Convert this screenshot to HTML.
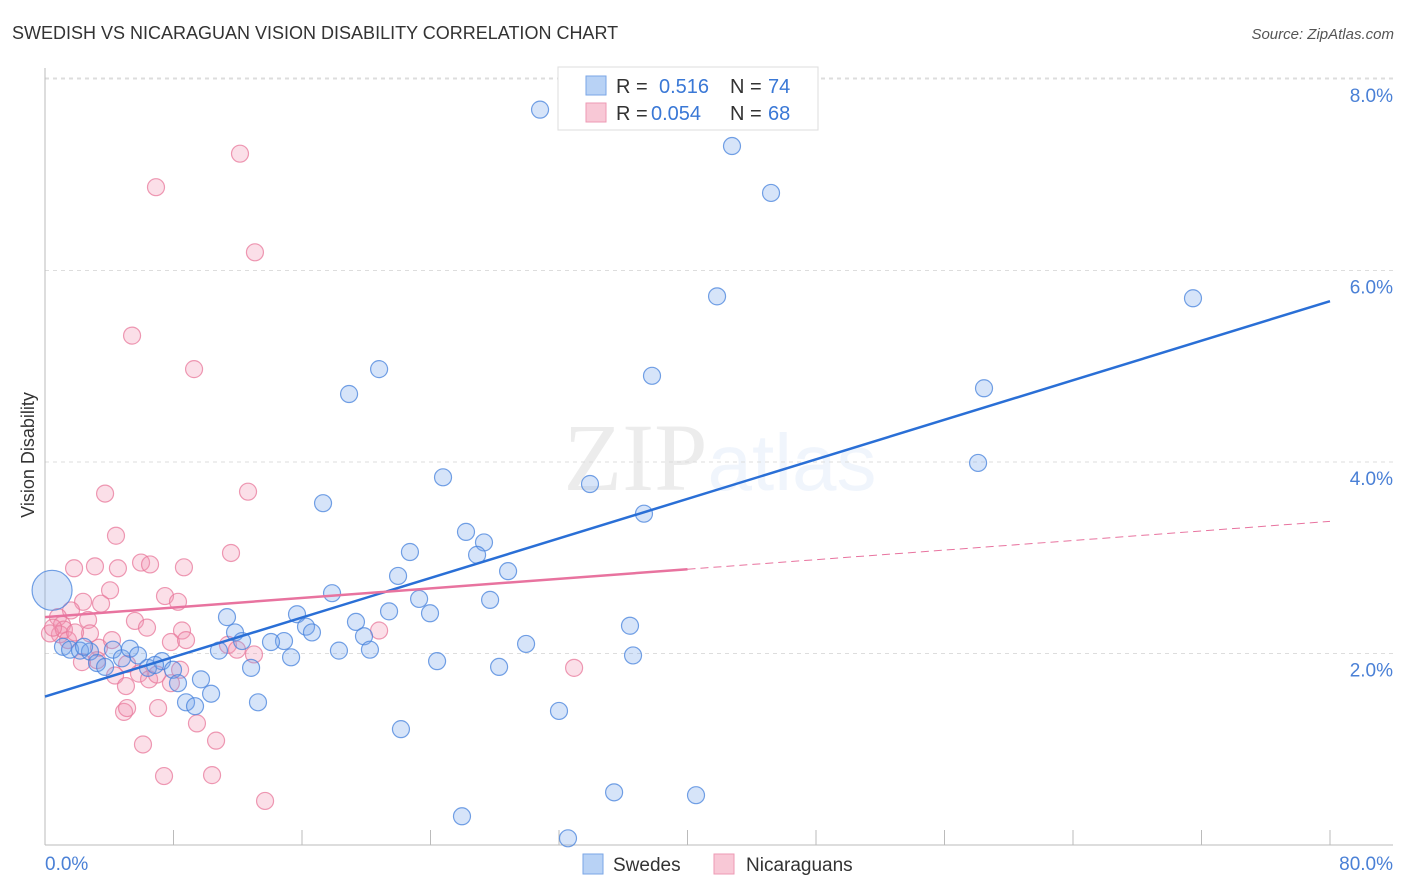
<!DOCTYPE html>
<html><head><meta charset="utf-8"><style>
body{margin:0;background:#fff;font-family:"Liberation Sans",sans-serif;}
svg{display:block}
</style></head><body>
<svg id="chart" width="1406" height="892" xmlns="http://www.w3.org/2000/svg">
<text x="12" y="39" font-size="18" fill="#333">SWEDISH VS NICARAGUAN VISION DISABILITY CORRELATION CHART</text>
<text x="1394" y="39" font-size="15" fill="#555" font-style="italic" text-anchor="end">Source: ZipAtlas.com</text>
<text x="720" y="490" font-size="96" text-anchor="middle" fill="#000" opacity="0.07" font-family="Liberation Serif">ZIP<tspan fill="#3a7ad8" opacity="1.6" font-family="Liberation Sans" font-size="80">atlas</tspan></text>
<text transform="translate(34,455) rotate(-90)" font-size="18" fill="#333" text-anchor="middle">Vision Disability</text>
<g id="grid"></g><g id="marks"></g><g id="trends"></g>
<g>
<rect x="558" y="67" width="260" height="63" fill="#fff" stroke="#ddd"/>
<rect x="586" y="76" width="20" height="19" fill="#b8d2f5" stroke="#7aa6e6"/>
<text x="616" y="93" font-size="20" fill="#333">R = </text><text x="659" y="93" font-size="20" fill="#3a78d6">0.516</text>
<text x="730" y="93" font-size="20" fill="#333">N = </text><text x="768" y="93" font-size="20" fill="#3a78d6">74</text>
<rect x="586" y="103" width="20" height="19" fill="#f8c8d6" stroke="#ee9ab4"/>
<text x="616" y="120" font-size="20" fill="#333">R = </text><text x="651" y="120" font-size="20" fill="#3a78d6">0.054</text>
<text x="730" y="120" font-size="20" fill="#333">N = </text><text x="768" y="120" font-size="20" fill="#3a78d6">68</text>
</g>
<g>
<rect x="583" y="854" width="20" height="20" fill="#b8d2f5" stroke="#7aa6e6"/>
<text x="613" y="871" font-size="19" fill="#333">Swedes</text>
<rect x="714" y="854" width="20" height="20" fill="#f8c8d6" stroke="#ee9ab4"/>
<text x="746" y="871" font-size="19" fill="#333">Nicaraguans</text>
</g>
</svg>
<script>
const xTicks=[0,10,20,30,40,50,60,70,80];
const yTicks=[2,4,6,8];
const yTickLabels=["2.0%","4.0%","6.0%","8.0%"];
const xEndLabels=["0.0%","80.0%"];
const blueX=[30.82,42.77,45.20,41.84,71.47,20.80,37.79,18.93,58.46,58.09,24.78,33.93,17.31,37.29,26.21,27.33,26.90,22.72,28.83,21.98,17.87,27.71,23.29,21.42,23.97,15.69,11.33,36.42,19.36,16.25,16.62,11.83,19.86,14.88,14.07,12.27,29.95,20.23,18.30,10.83,15.32,36.61,24.41,28.27,12.83,9.71,10.34,8.78,9.34,13.26,32.00,22.16,35.43,40.53,25.96,32.56,0.44,1.12,1.56,2.18,2.80,3.24,3.74,4.23,4.79,5.29,5.79,6.41,7.28,7.97,8.28,6.85,2.43];
const blueY=[7.68,7.30,6.81,5.73,5.71,4.97,4.90,4.71,4.77,3.99,3.84,3.77,3.57,3.46,3.27,3.16,3.03,3.06,2.86,2.81,2.63,2.56,2.57,2.44,2.42,2.41,2.38,2.29,2.33,2.28,2.22,2.22,2.18,2.13,2.12,2.13,2.10,2.04,2.03,2.03,1.96,1.98,1.92,1.86,1.85,1.73,1.58,1.49,1.45,1.49,1.40,1.21,0.55,0.52,0.30,0.07,2.66,2.07,2.04,2.03,2.02,1.90,1.86,2.04,1.95,2.05,1.98,1.85,1.92,1.83,1.69,1.88,2.07];
const pinkX=[12.14,6.91,13.07,5.42,9.28,3.74,12.64,4.42,11.58,1.81,3.11,4.54,5.98,6.54,8.65,4.05,7.47,8.28,2.37,3.49,1.62,0.81,1.06,2.68,5.60,6.35,8.53,2.80,20.80,11.39,3.36,4.17,0.93,0.31,1.18,7.84,8.78,11.95,13.01,3.24,5.11,5.85,6.48,6.97,7.84,8.41,4.36,5.04,32.94,2.30,4.92,5.11,7.04,9.46,6.10,10.65,7.41,10.40,13.70,0.50,1.43,1.87];
const pinkY=[7.22,6.87,6.19,5.32,4.97,3.67,3.69,3.23,3.05,2.89,2.91,2.89,2.95,2.93,2.90,2.66,2.60,2.54,2.54,2.52,2.45,2.38,2.30,2.35,2.34,2.27,2.24,2.21,2.24,2.09,2.06,2.14,2.20,2.21,2.25,2.12,2.14,2.04,1.99,1.93,1.89,1.79,1.73,1.78,1.69,1.83,1.77,1.66,1.85,1.91,1.39,1.43,1.43,1.27,1.05,1.09,0.72,0.73,0.46,2.27,2.14,2.22];
const blueTrend=[1.55,5.68];   // value at x=0 and x=80
const pinkTrend=[2.38,3.38];   // value at x=0 and x=80
const pinkSolidEnd=40;

const X0=45,X1=1330,Y0=845,PX_PER=95.75;
const sx=v=>X0+(v/80)*(X1-X0);
const sy=v=>Y0-v*PX_PER;
const NS="http://www.w3.org/2000/svg";
function mk(tag,attrs,parent){const e=document.createElementNS(NS,tag);for(const k in attrs)e.setAttribute(k,attrs[k]);parent.appendChild(e);return e;}
const grid=document.getElementById('grid'),marks=document.getElementById('marks'),trends=document.getElementById('trends');
yTicks.forEach((t,i)=>{
  const g=mk('line',{x1:X0,x2:1393,y1:sy(t),y2:sy(t),stroke:'#ddd','stroke-dasharray':'4,4'},grid);
  
  
  const l=mk('text',{x:1393,y:sy(t)+23,'font-size':19,fill:'#4a80d6','text-anchor':'end'},grid);
  l.textContent=yTickLabels[i];
  
  
});
const topG=mk('line',{x1:X0,x2:1393,y1:sy(8)-1,y2:sy(8)-1,stroke:'#ddd','stroke-dasharray':'4,4'},grid);
const ax=mk('line',{x1:X0,x2:X0,y1:68,y2:Y0,stroke:'#bbb'},grid);


const bx=mk('line',{x1:X0,x2:1393,y1:Y0,y2:Y0,stroke:'#bbb'},grid);


for(let v=0;v<=80;v+=8){
  const t=mk('line',{x1:sx(v),x2:sx(v),y1:Y0,y2:Y0-15,stroke:'#bbb'},grid);
  
  
}
const xl0=mk('text',{x:45,y:870,'font-size':19,fill:'#4a80d6'},grid);xl0.textContent=xEndLabels[0];


const xl1=mk('text',{x:1393,y:870,'font-size':19,fill:'#4a80d6','text-anchor':'end'},grid);xl1.textContent=xEndLabels[1];



pinkX.forEach((x,i)=>{
  const c=mk('circle',{cx:sx(x),cy:sy(pinkY[i]),r:8.5,fill:'rgba(242,150,178,0.3)',stroke:'rgba(232,120,155,0.75)','stroke-width':1.2},marks);
  
  
});
blueX.forEach((x,i)=>{
  const big=(i===56);
  const c=mk('circle',{cx:sx(x),cy:sy(blueY[i]),r:big?20:8.5,fill:'rgba(120,165,235,0.3)',stroke:'rgba(70,130,220,0.75)','stroke-width':1.2},marks);
  
  
});
const pAt=x=>pinkTrend[0]+(pinkTrend[1]-pinkTrend[0])*x/80;
const bl=mk('line',{x1:sx(0),y1:sy(blueTrend[0]),x2:sx(80),y2:sy(blueTrend[1]),stroke:'#2a6fd6','stroke-width':2.5},trends);


const pl=mk('line',{x1:sx(0),y1:sy(pAt(0)),x2:sx(pinkSolidEnd),y2:sy(pAt(pinkSolidEnd)),stroke:'#e8739f','stroke-width':2.5},trends);


const pd=mk('line',{x1:sx(pinkSolidEnd),y1:sy(pAt(pinkSolidEnd)),x2:sx(80),y2:sy(pAt(80)),stroke:'#e8739f','stroke-width':1,'stroke-dasharray':'8,5'},trends);


</script>
</body></html>
